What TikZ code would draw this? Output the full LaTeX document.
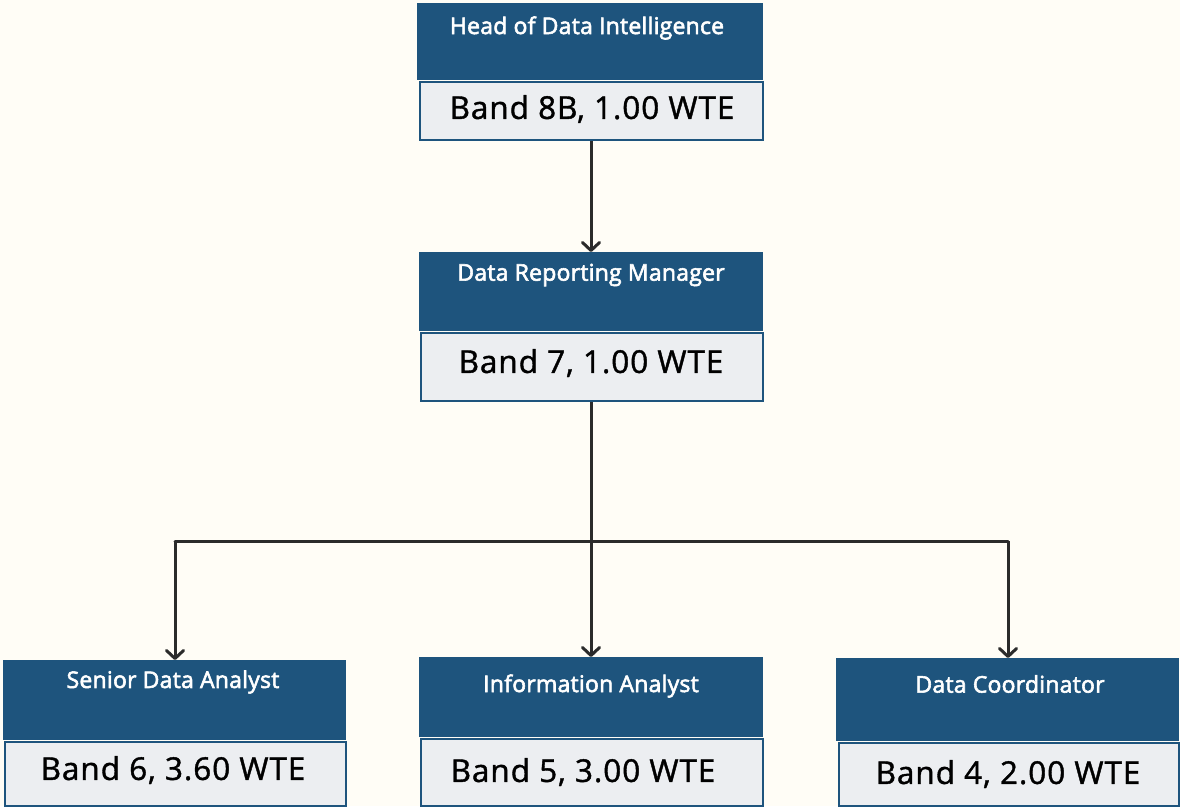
\documentclass[tikz,border=0pt]{standalone}
\usepackage{fontspec}
\setmainfont{Open Sans}
\newfontfamily\hdrfont[FakeBold=2.5,LetterSpace=1]{Open Sans}
\newfontfamily\bandfont[FakeBold=1.2,LetterSpace=3]{Open Sans}
\usetikzlibrary{arrows.meta}
\definecolor{bg}{HTML}{FFFDF6}
\definecolor{hdrblue}{HTML}{1E547D}
\definecolor{lightbox}{HTML}{ECEEF1}
\definecolor{linecol}{HTML}{2B2B2B}
\tikzset{
  hdr/.style={fill=hdrblue, draw=none, inner sep=0pt, anchor=north west},
  bandbox/.style={fill=lightbox, draw=hdrblue, line width=2pt, inner sep=0pt, anchor=north west},
  hdrtext/.style={text=white, font=\hdrfont\fontsize{23}{26}\selectfont, inner sep=0pt, anchor=center},
  bandtext/.style={text=black, font=\bandfont\fontsize{31.5}{36}\selectfont, inner sep=0pt, anchor=center},
  conn/.style={draw=linecol, line width=3pt},
  arr/.style={conn, -{Straight Barb[length=8pt,width=17pt,line width=3pt,round]}},
}
\begin{document}
\begin{tikzpicture}[x=1pt,y=-1pt]
\fill[bg] (0,0) rectangle (1180,806);
\useasboundingbox (0,0) rectangle (1180,806);
% top box
\node[hdr, minimum width=346pt, minimum height=77pt] (h1) at (417,3) {};
\node[bandbox, minimum width=343pt, minimum height=58pt] (b1) at (419,81) {};
\node[hdrtext] (t1) at (587,28) {Head of Data Intelligence};
\node[bandtext] (v1) at (592,109) {Band 8B, 1.00 WTE};
% middle box
\node[hdr, minimum width=344pt, minimum height=79pt] (h2) at (419,252) {};
\node[bandbox, minimum width=342pt, minimum height=68pt] (b2) at (420,332) {};
\node[hdrtext] (t2) at (591,275) {Data Reporting Manager};
\node[bandtext] (v2) at (591,363) {Band 7, 1.00 WTE};
% bottom left
\node[hdr, minimum width=343pt, minimum height=80pt] (h3) at (3,660) {};
\node[bandbox, minimum width=341pt, minimum height=64pt] (b3) at (4,741) {};
\node[hdrtext] (t3) at (173,682) {Senior Data Analyst};
\node[bandtext] (v3) at (173,770) {Band 6, 3.60 WTE};
% bottom middle
\node[hdr, minimum width=344pt, minimum height=80pt] (h4) at (419,657) {};
\node[bandbox, minimum width=342pt, minimum height=67pt] (b4) at (420,738) {};
\node[hdrtext] (t4) at (591,686) {Information Analyst};
\node[bandtext] (v4) at (583,772) {Band 5, 3.00 WTE};
% bottom right
\node[hdr, minimum width=343pt, minimum height=83pt] (h5) at (836,658) {};
\node[bandbox, minimum width=340pt, minimum height=63pt] (b5) at (838,742) {};
\node[hdrtext] (t5) at (1010,684) {Data Coordinator};
\node[bandtext] (v5) at (1008,774) {Band 4, 2.00 WTE};
% connectors
\coordinate (j) at (591,541);
\draw[arr] (b1.south -| 591,0) -- (h2.north -| 591,0);
\draw[conn] (b2.south -| 591,0) -- (j);
\draw[conn, line cap=round] (175,541) -- (1008,541);
\draw[arr] (j -| 175,0) -- (h3.north -| 175,0);
\draw[arr] (j) -- (h4.north -| 591,0);
\draw[arr] (j -| 1008,0) -- (h5.north -| 1008,0);
\end{tikzpicture}
\end{document}
